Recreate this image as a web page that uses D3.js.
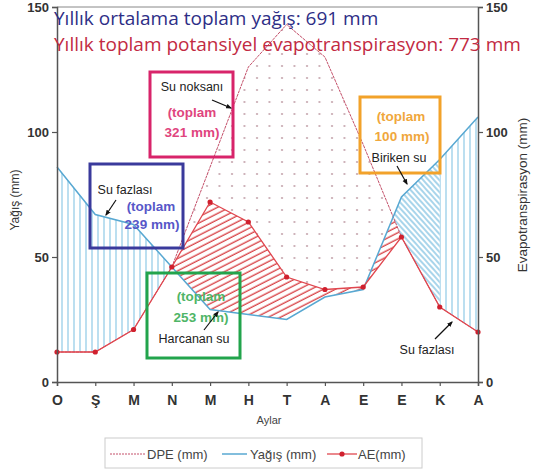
<!DOCTYPE html>
<html>
<head>
<meta charset="utf-8">
<script src="https://cdn.jsdelivr.net/npm/d3@7"></script>
<style>
body{margin:0;background:#fff;}
text{font-family:'Liberation Sans',Arial,sans-serif;}
</style>
</head>
<body>
<svg id="chart" width="535" height="473"></svg>
<script>
// monthly data (mm)
var months = ['O','Ş','M','N','M','H','T','A','E','E','K','A'];
var yagis = [86,67,63,46,29,27,25,34,37,74,89,106];
var dpe = [12,12,21,46,86,126,143,130,95,58,30,20];
var ae = [12,12,21,46,72,64,42,37,38,58,30,20];
var yTicks = [0,50,100,150];

var W = 535, H = 473;
var svg = d3.select('#chart');
var idx = d3.range(months.length);

var x = d3.scaleLinear().domain([0, 11]).range([57, 478]);
var y = d3.scaleLinear().domain([0, 150]).range([382, 7]);

var defs = svg.append('defs');

// hatch patterns
var pv = defs.append('pattern').attr('id','vert').attr('patternUnits','userSpaceOnUse')
	.attr('width',6).attr('height',6);
pv.append('line').attr('x1',2).attr('x2',2).attr('y1',0).attr('y2',6)
	.attr('stroke','#8fc9e6').attr('stroke-width',1.2);

var pr = defs.append('pattern').attr('id','redHatch').attr('patternUnits','userSpaceOnUse')
	.attr('width',10).attr('height',5.5).attr('patternTransform','rotate(-27)');
pr.append('line').attr('x1',0).attr('x2',10).attr('y1',3).attr('y2',3)
	.attr('stroke','#d9484c').attr('stroke-width',1.4);

var pb = defs.append('pattern').attr('id','blueHatch').attr('patternUnits','userSpaceOnUse')
	.attr('width',8).attr('height',4).attr('patternTransform','rotate(48)');
pb.append('line').attr('x1',0).attr('x2',8).attr('y1',2).attr('y2',2)
	.attr('stroke','#62b3da').attr('stroke-width',1.1);

var pd = defs.append('pattern').attr('id','dots').attr('patternUnits','userSpaceOnUse')
	.attr('width',12.5).attr('height',12).attr('x',4).attr('y',3);
pd.append('circle').attr('cx',3).attr('cy',3).attr('r',1.1).attr('fill','#c4a4ac');

// clip helpers
function above(arr){
	return d3.area().x(function(d){ return x(d); }).y0(0).y1(function(d){ return y(arr[d]); })(idx);
}
function below(arr){
	return d3.area().x(function(d){ return x(d); }).y0(H).y1(function(d){ return y(arr[d]); })(idx);
}
function addClip(id, d){
	defs.append('clipPath').attr('id',id).append('path').attr('d',d);
}
function addRectClip(id, x0, x1){
	defs.append('clipPath').attr('id',id).append('rect')
		.attr('x',x0).attr('y',0).attr('width',x1 - x0).attr('height',H);
}
addClip('aboveAE', above(ae));
addClip('aboveP', above(yagis));
addClip('belowDPE', below(dpe));
addClip('aboveDPE', above(dpe));
addRectClip('xLeft', x(0), x(3));
addRectClip('xMid', x(3), x(9));
addRectClip('xBiriken', x(3), x(10));
addRectClip('xRight', x(10), x(11));

var areaPA = d3.area()
	.x(function(d){ return x(d); })
	.y0(function(d){ return y(yagis[d]); })
	.y1(function(d){ return y(ae[d]); });

var fills = svg.append('g');

// su fazlasi (left, right)
fills.append('g').attr('clip-path','url(#xLeft)')
	.append('path').attr('d',areaPA(idx)).attr('fill','url(#vert)');
fills.append('g').attr('clip-path','url(#xRight)')
	.append('path').attr('d',areaPA(idx)).attr('fill','url(#vert)');

// harcanan su
fills.append('g').attr('clip-path','url(#xMid)')
	.append('g').attr('clip-path','url(#belowDPE)')
	.append('path').attr('d',areaPA(idx)).attr('fill','url(#redHatch)');

// biriken su
fills.append('g').attr('clip-path','url(#xBiriken)')
	.append('g').attr('clip-path','url(#aboveDPE)')
	.append('path').attr('d',areaPA(idx)).attr('fill','url(#blueHatch)');

// su noksani
fills.append('g').attr('clip-path','url(#aboveAE)')
	.append('g').attr('clip-path','url(#aboveP)')
	.append('path').attr('d',below(dpe)).attr('fill','url(#dots)');

// lines
var line = function(arr){
	return d3.line().x(function(d){ return x(d); }).y(function(d){ return y(arr[d]); })(idx);
};

svg.append('path').attr('d',line(dpe)).attr('fill','none')
	.attr('stroke','#c4506a').attr('stroke-width',1).attr('stroke-dasharray','3,0.8');
svg.append('path').attr('d',line(yagis)).attr('fill','none')
	.attr('stroke','#58a8d2').attr('stroke-width',1.5);
svg.append('path').attr('d',line(ae)).attr('fill','none')
	.attr('stroke','#e0474f').attr('stroke-width',1.3);
svg.selectAll('.aeDot').data(idx).enter().append('circle')
	.attr('class','aeDot')
	.attr('cx',function(d){ return x(d); })
	.attr('cy',function(d){ return y(ae[d]); })
	.attr('r',2.6).attr('fill','#d0202e');

// axes
var axisCol = '#555';
svg.append('line').attr('x1',x(0)).attr('x2',x(11)).attr('y1',y(150)).attr('y2',y(150))
	.attr('stroke','#888').attr('stroke-width',1);

var gl = svg.append('g').attr('transform','translate(' + x(0) + ',0)')
	.call(d3.axisLeft(y).tickValues(yTicks).tickSize(5).tickPadding(3));
var gr = svg.append('g').attr('transform','translate(' + x(11) + ',0)')
	.call(d3.axisRight(y).tickValues(yTicks).tickSize(5).tickPadding(3));
var gb = svg.append('g').attr('transform','translate(0,' + y(0) + ')')
	.call(d3.axisBottom(x).tickValues(idx).tickSize(4)
		.tickFormat(function(d){ return months[d]; }));

[gl, gr, gb].forEach(function(g){
	g.select('.domain').attr('stroke',axisCol).attr('stroke-width',1.5);
	g.selectAll('.tick line').attr('stroke',axisCol).attr('stroke-width',1.2);
	g.selectAll('text').attr('fill','#333').style('font-family',"'Liberation Sans',Arial,sans-serif")
		.style('font-weight','bold');
});
gl.selectAll('text').style('font-size','13px');
gr.selectAll('text').style('font-size','13px');
gb.selectAll('text').style('font-size','14px').attr('y',13);

// axis titles
svg.append('text').attr('transform','translate(19,200) rotate(-90)')
	.style('text-anchor','middle').style('font-size','12px').attr('fill','#333')
	.text('Yağış (mm)');
svg.append('text').attr('transform','translate(527,195) rotate(-90)')
	.style('text-anchor','middle').style('font-size','13.5px').attr('fill','#333')
	.text('Evapotranspirasyon (mm)');
svg.append('text').attr('x',269).attr('y',424)
	.style('text-anchor','middle').style('font-size','11px').attr('fill','#444')
	.text('Aylar');

// headline texts
svg.append('text').attr('x',54).attr('y',25)
	.style('font-family',"'Open Sans',sans-serif").style('font-size','19px').attr('fill','#2e2e86')
	.text('Yıllık ortalama toplam yağış: 691 mm');
svg.append('text').attr('x',54).attr('y',51)
	.style('font-family',"'Open Sans',sans-serif").style('font-size','19px').attr('fill','#c22a42')
	.text('Yıllık toplam potansiyel evapotranspirasyon: 773 mm');

// annotation boxes
defs.append('marker').attr('id','arrow').attr('viewBox','0 0 10 10')
	.attr('refX',8).attr('refY',5).attr('markerWidth',5).attr('markerHeight',5)
	.attr('orient','auto')
	.append('path').attr('d','M0,1 L10,5 L0,9 z').attr('fill','#111');

var boxes = [
	{x:150, y:72, w:83, h:85, col:'#d8246a', tc:'#e0457e',
		lines:[['Su noksanı',192,91,0],['(toplam',192,117,1],['321 mm)',192,137,1]],
		arrow:[212,100,231,108]},
	{x:90, y:164, w:93, h:84, col:'#3a3a9c', tc:'#5757c8',
		lines:[['Su fazlası',125,194,0],['(toplam',151,211,1],['239 mm)',152,229,1]],
		arrow:[116,200,106,215]},
	{x:147, y:273, w:93, h:85, col:'#22a44c', tc:'#4fb567',
		lines:[['(toplam',201,301,1],['253 mm)',201,322,1],['Harcanan su',194,343,0]],
		arrow:[204,330,218,312]},
	{x:360, y:97, w:80, h:76, col:'#f2a22a', tc:'#f0a73c',
		lines:[['(toplam',401,121,1],['100 mm)',402,141,1],['Biriken su',399,162,0]],
		arrow:[397,166,407,184]}
];

boxes.forEach(function(b){
	svg.append('rect').attr('x',b.x).attr('y',b.y).attr('width',b.w).attr('height',b.h)
		.attr('fill','none').attr('stroke',b.col).attr('stroke-width',3);
	b.lines.forEach(function(l){
		svg.append('text').attr('x',l[1]).attr('y',l[2])
			.style('text-anchor','middle')
			.style('font-size', l[3] ? '13.5px' : '12.5px')
			.style('font-weight', l[3] ? 'bold' : 'normal')
			.attr('fill', l[3] ? b.tc : '#222')
			.text(l[0]);
	});
	svg.append('line').attr('x1',b.arrow[0]).attr('y1',b.arrow[1])
		.attr('x2',b.arrow[2]).attr('y2',b.arrow[3])
		.attr('stroke','#111').attr('stroke-width',1.2).attr('marker-end','url(#arrow)');
});

svg.append('text').attr('x',427).attr('y',354).style('text-anchor','middle')
	.style('font-size','12.5px').attr('fill','#222').text('Su fazlası');
svg.append('line').attr('x1',435).attr('y1',339).attr('x2',452).attr('y2',322)
	.attr('stroke','#111').attr('stroke-width',1.2).attr('marker-end','url(#arrow)');

// legend
var lg = svg.append('g');
lg.append('rect').attr('x',105).attr('y',438).attr('width',317).attr('height',30)
	.attr('fill','#fff').attr('stroke','#ccc');
lg.append('line').attr('x1',110).attr('x2',145).attr('y1',454).attr('y2',454)
	.attr('stroke','#c4506a').attr('stroke-width',1).attr('stroke-dasharray','2,1');
lg.append('line').attr('x1',222).attr('x2',247).attr('y1',454).attr('y2',454)
	.attr('stroke','#58a8d2').attr('stroke-width',1.5);
lg.append('line').attr('x1',327).attr('x2',357).attr('y1',454).attr('y2',454)
	.attr('stroke','#e0474f').attr('stroke-width',1.3);
lg.append('circle').attr('cx',342).attr('cy',454).attr('r',2.6).attr('fill','#d0202e');
var legTexts = [['DPE (mm)',147],['Yağış (mm)',250],['AE(mm)',358]];
legTexts.forEach(function(t){
	lg.append('text').attr('x',t[1]).attr('y',459).style('font-size','13px').attr('fill','#444')
		.text(t[0]);
});
</script>
</body>
</html>
